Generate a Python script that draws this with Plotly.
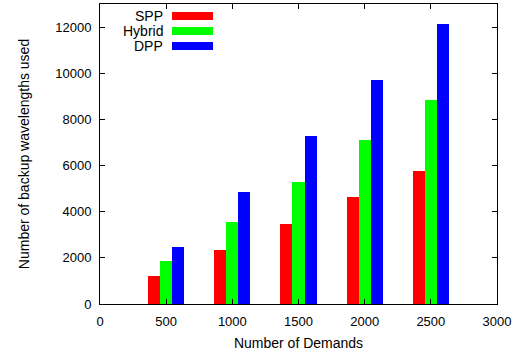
import plotly.graph_objects as go

demands = [500, 1000, 1500, 2000, 2500]
spp = [1200, 2330, 3450, 4650, 5750]
hybrid = [1850, 3550, 5300, 7100, 8850]
dpp = [2450, 4850, 7300, 9700, 12150]
series_names = ["SPP", "Hybrid", "DPP"]
series_colors = ["#ff0000", "#00ff00", "#0000ff"]
x_ticks = [0, 500, 1000, 1500, 2000, 2500, 3000]
y_ticks = [0, 2000, 4000, 6000, 8000, 10000, 12000]

bar_w = 91
offsets = [-bar_w, 0, bar_w]

fig = go.Figure()
for name, vals, col, off in zip(series_names, [spp, hybrid, dpp], series_colors, offsets):
    fig.add_trace(go.Bar(
        x=[d + off for d in demands], y=vals, width=bar_w, name=name,
        marker=dict(color=col, line=dict(width=0)), showlegend=False))

font = "Liberation Sans, Arial, sans-serif"
axis_common = dict(showgrid=False, zeroline=False, showline=True, linecolor="black",
                   linewidth=1, mirror="allticks", ticks="inside", ticklen=5,
                   tickcolor="black", tickfont=dict(family=font, size=13, color="black"))

fig.update_layout(
    width=516, height=352,
    margin=dict(l=100, r=19, t=4, b=48),
    plot_bgcolor="white", paper_bgcolor="white",
    xaxis=dict(range=[0, 3000], tickvals=x_ticks, ticktext=[str(v) for v in x_ticks],
               ticklabelstandoff=5,
               title=dict(text="Number of Demands", font=dict(family=font, size=14, color="black"), standoff=10),
               **axis_common),
    yaxis=dict(range=[0, 13000], tickvals=y_ticks, ticktext=[str(v) for v in y_ticks],
               ticklabelstandoff=5,
               title=dict(text="Number of backup wavelengths used", font=dict(family=font, size=14, color="black"), standoff=22),
               **axis_common),
    bargap=0,
)

# custom legend (text left of swatch, like gnuplot)
leg_y = [16, 31, 46]
for name, col, py in zip(series_names, series_colors, leg_y):
    yp = (304 - py) / 300
    fig.add_annotation(x=(165 - 100) / 397, y=yp, xref="paper", yref="paper",
                       text=name, showarrow=False, xanchor="right", yanchor="middle",
                       font=dict(family=font, size=14, color="black"))
    fig.add_shape(type="rect", xref="paper", yref="paper",
                  x0=(172 - 100) / 397, x1=(213 - 100) / 397,
                  y0=(304 - py - 4) / 300, y1=(304 - py + 4) / 300,
                  fillcolor=col, line=dict(width=0))

fig.write_html("out.html")
